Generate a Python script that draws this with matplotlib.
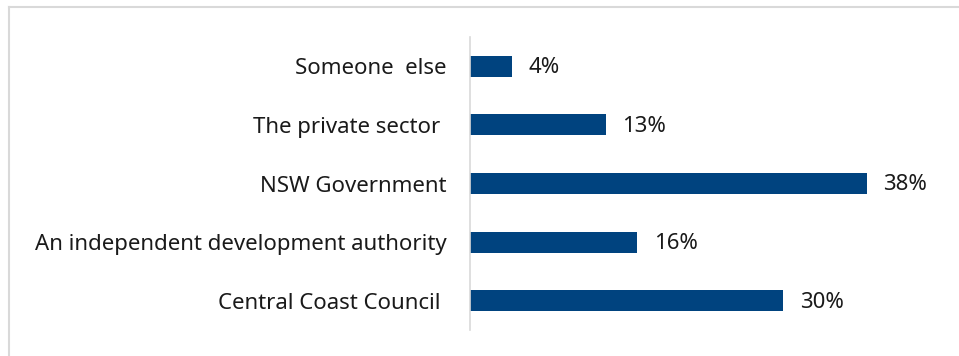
import matplotlib
matplotlib.use("Agg")
import matplotlib.pyplot as plt
from matplotlib.lines import Line2D

categories = ["Central Coast Council ", "An independent development authority",
              "NSW Government", "The private sector ", "Someone  else"]
values = [30, 16, 38, 13, 4]
value_labels = ["30%", "16%", "38%", "13%", "4%"]

plt.rcParams['font.family'] = ['Noto Sans', 'DejaVu Sans']

W, H = 959, 356
fig = plt.figure(figsize=(W / 100, H / 100), dpi=100)
ax_left, ax_right = 470, 940
ax_top, ax_bot = 37, 330
ax = fig.add_axes([ax_left / W, (H - ax_bot) / H, (ax_right - ax_left) / W, (ax_bot - ax_top) / H])

ypos = list(range(len(categories)))
ax.barh(ypos, values, height=0.36, color="#00437f")
ax.set_xlim(0, 45)
ax.set_ylim(-0.5, len(categories) - 0.5)
ax.set_yticks(ypos)
ax.set_yticklabels(categories, fontsize=16, color="#1a1a1a")
ax.tick_params(axis='y', length=0, pad=17)
ax.set_xticks([])
for s in ["top", "right", "bottom"]:
    ax.spines[s].set_visible(False)
ax.spines["left"].set_color("#d9d9d9")
ax.spines["left"].set_linewidth(1.2)

for y, v, lab in zip(ypos, values, value_labels):
    ax.annotate(lab, (v, y), xytext=(12, -1), textcoords="offset points",
                va="center", ha="left", fontsize=16, color="#1a1a1a")

# outer frame: top and left lines
fig.add_artist(Line2D([9 / W, 958 / W], [(H - 7) / H, (H - 7) / H], color="#d9d9d9", lw=1.5,
                      transform=fig.transFigure))
fig.add_artist(Line2D([9 / W, 9 / W], [(H - 7) / H, 0], color="#d9d9d9", lw=1.5,
                      transform=fig.transFigure))

fig.savefig("out.png", dpi=100)
